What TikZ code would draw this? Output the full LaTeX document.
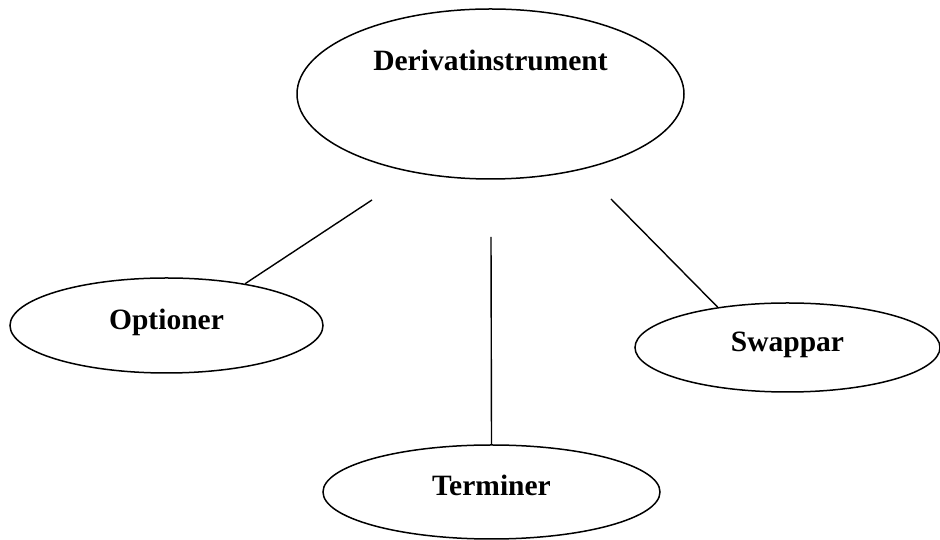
\documentclass[tikz,border=0pt]{standalone}
\usepackage{fontspec}
\setmainfont{Liberation Serif}
\usetikzlibrary{shapes.geometric}
\tikzset{
    oval/.style={ellipse, draw, line width=1.5pt, inner sep=0pt,
        font=\fontsize{29.5}{35}\selectfont\bfseries, text height=20pt, text depth=12pt},
    spoke/.style={line width=1.4pt}
}
\begin{document}
\begin{tikzpicture}[x=1pt,y=1pt]
        \useasboundingbox (0,0) rectangle (940,540);
        \node (deriv) at (490.5,446) [oval, minimum width=387pt, minimum height=170pt, text depth=66pt] {Derivatinstrument};
        \node (optioner) at (166.5,214.5) [oval, minimum width=313pt, minimum height=95pt] {Optioner};
        \node (swappar) at (787.5,192.5) [oval, minimum width=305pt, minimum height=89pt] {Swappar};
        \node (terminer) at (491.5,48) [oval, minimum width=337pt, minimum height=94pt] {Terminer};
        \coordinate (optstart) at (372,340); \coordinate (terstart) at (491,303); \coordinate (swastart) at (611,341);
        \draw[spoke] (optstart) -- (optioner.28);
        \draw[spoke] (terstart) -- (terminer.north);
        \draw[spoke] (swastart) -- (swappar.150);
    \end{tikzpicture}
\end{document}
